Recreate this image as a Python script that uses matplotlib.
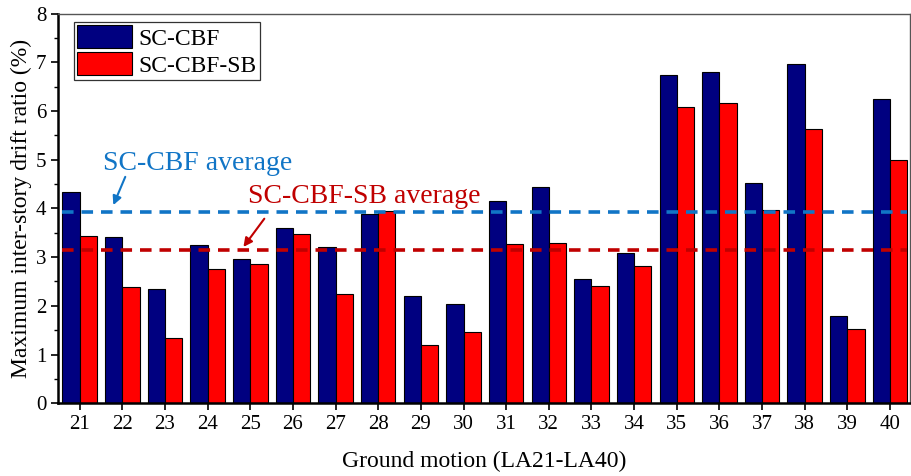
import numpy as np
import matplotlib
matplotlib.use('Agg')
import matplotlib.pyplot as plt
from matplotlib.ticker import MultipleLocator

plt.rcParams['font.family'] = ['Liberation Serif', 'DejaVu Serif']

# ground motion records LA21-LA40
motions = list(range(21, 41))
sc_cbf = [4.33, 3.42, 2.35, 3.24, 2.97, 3.59, 3.20, 3.88, 2.21, 2.03,
          4.15, 4.44, 2.55, 3.09, 6.74, 6.81, 4.52, 6.97, 1.80, 6.25]
sc_cbf_sb = [3.44, 2.39, 1.34, 2.75, 2.86, 3.48, 2.25, 3.94, 1.20, 1.46,
             3.28, 3.30, 2.40, 2.82, 6.08, 6.16, 3.97, 5.63, 1.53, 5.00]
avg_cbf = 3.93
avg_cbf_sb = 3.14

blue_line = '#1175c6'
red_line = '#c00000'

fig = plt.figure(figsize=(9.11, 4.76), dpi=100)
ax = fig.add_axes([0.064, 0.153, 0.935, 0.818])

x = np.array(motions)
w = 0.405
ax.bar(x - w / 2, sc_cbf, w, color='#000080', edgecolor='black', linewidth=0.8,
       label='SC-CBF', zorder=2)
ax.bar(x + w / 2, sc_cbf_sb, w, color='#ff0000', edgecolor='black', linewidth=0.8,
       label='SC-CBF-SB', zorder=2)

# average lines
ax.plot([x[0] - w, x[-1] + w], [avg_cbf, avg_cbf], ls=(0, (3.2, 2.2)), lw=2.6,
        color=blue_line, zorder=3)
ax.plot([x[0] - w, x[-1] + w], [avg_cbf_sb, avg_cbf_sb], ls=(0, (3.2, 2.2)), lw=2.6,
        color=red_line, zorder=3)

ax.text(21.55, 4.79, 'SC-CBF average', fontsize=20, color=blue_line,
        ha='left', va='baseline')
ax.annotate('', xy=(21.79, avg_cbf + 0.14), xytext=(22.07, 4.65),
            arrowprops=dict(arrowstyle='-|>', color=blue_line, lw=1.5,
                            shrinkA=0, shrinkB=0, mutation_scale=13))
ax.text(24.95, 4.11, 'SC-CBF-SB average', fontsize=20, color=red_line,
        ha='left', va='baseline')
ax.annotate('', xy=(24.84, avg_cbf_sb + 0.07), xytext=(25.33, 3.79),
            arrowprops=dict(arrowstyle='-|>', color=red_line, lw=1.5,
                            shrinkA=0, shrinkB=0, mutation_scale=13))

ax.set_xlim(20.5, 40.47)
ax.set_ylim(0, 8)
ax.set_xticks(motions)
ax.yaxis.set_major_locator(MultipleLocator(1))
ax.yaxis.set_minor_locator(MultipleLocator(0.5))
ax.tick_params(axis='both', which='major', direction='out', length=5, width=1.2,
               labelsize=15)
ax.tick_params(axis='y', which='minor', direction='out', length=3, width=1.0)
ax.tick_params(axis='x', which='minor', bottom=False)

ax.set_xlabel('Ground motion (LA21-LA40)', fontsize=17, labelpad=12)
ax.set_ylabel('Maximum inter-story drift ratio (%)', fontsize=17, labelpad=3)

for side in ('left', 'bottom'):
    ax.spines[side].set_linewidth(1.8)
for side in ('top', 'right'):
    ax.spines[side].set_linewidth(1.0)
    ax.spines[side].set_color('#555555')

leg = ax.legend(loc='upper left', bbox_to_anchor=(0.019, 0.978), fontsize=17,
                frameon=True, fancybox=False, handlelength=2.3, handleheight=1.1,
                handletextpad=0.3, borderpad=0.12, labelspacing=0.12,
                borderaxespad=0.0)
leg.get_frame().set_edgecolor('black')
leg.get_frame().set_linewidth(0.9)

fig.savefig('out.png', dpi=100)
